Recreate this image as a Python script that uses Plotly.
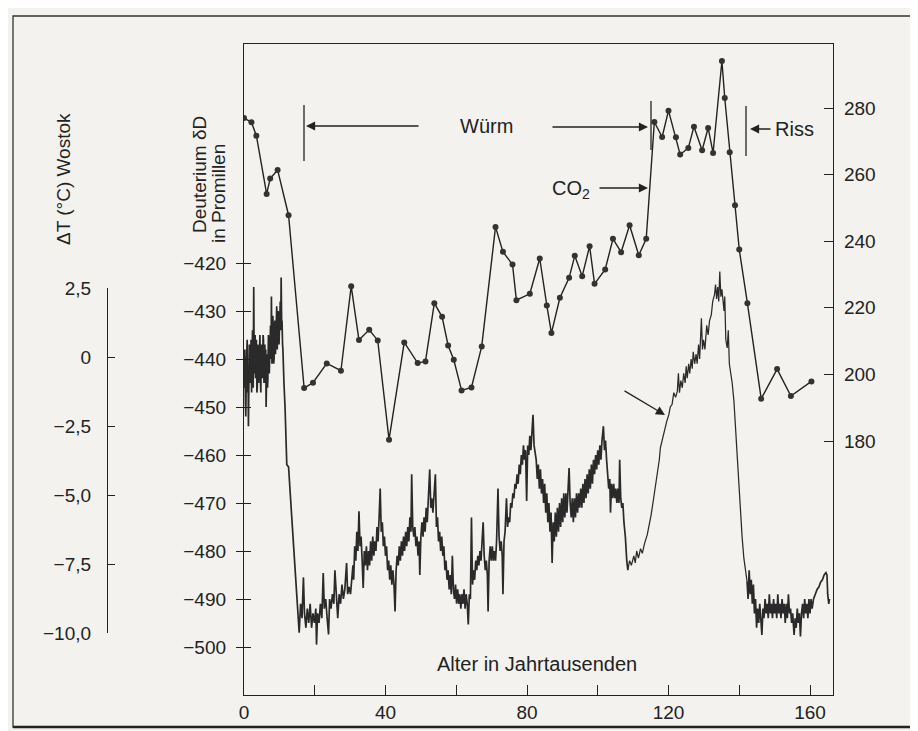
import plotly.graph_objects as go

# ---------------- data ----------------
# CO2 (ppm) record, right axis
co2_age = [0.0, 2.1, 3.5, 6.4, 7.4, 9.5, 12.6, 17.0, 19.5, 23.4, 27.4, 30.3, 32.5, 35.4, 37.8,
           41.0, 45.3, 49.1, 51.3, 53.8, 56.0, 57.7, 59.3, 61.5, 64.3, 67.2, 71.1, 73.2, 75.9,
           77.0, 80.8, 83.6, 85.6, 86.9, 89.3, 91.9, 93.5, 95.6, 97.7, 99.1, 102.1, 104.3, 106.6,
           109.0, 111.6, 113.7, 116.0, 118.2, 120.0, 122.1, 123.3, 125.6, 127.2, 129.5, 131.2,
           132.6, 135.1, 135.9, 137.3, 138.8, 140.0, 142.3, 146.2, 150.7, 154.6, 160.4]
co2_ppm = [277.0, 275.7, 271.7, 254.2, 258.8, 261.4, 247.8, 195.9, 197.5, 203.3, 201.1, 226.5, 210.3,
           213.4, 210.2, 180.4, 209.6, 203.4, 203.9, 221.4, 217.3, 208.7, 204.4, 195.2, 196.1, 208.4,
           244.3, 236.8, 233.0, 222.3, 224.2, 234.8, 220.7, 212.4, 223.0, 229.0, 235.6, 229.5, 238.5,
           227.2, 231.5, 240.7, 236.7, 244.8, 235.8, 240.7, 275.8, 271.3, 279.2, 271.2, 266.0, 268.0,
           274.4, 267.3, 274.0, 266.5, 294.1, 283.0, 266.7, 250.8, 237.5, 221.4, 192.7, 201.6, 193.5,
           197.9]

# Deuterium (per mil) record, left axis: (age kyr, dD)
dd_holocene = [(0.0, -446), (0.15, -440), (0.25, -438), (0.4, -449), (0.5, -452), (0.65, -443),
               (0.75, -441), (0.9, -436), (1.0, -447), (1.15, -442), (1.25, -454), (1.4, -444),
               (1.5, -437), (1.65, -441), (1.75, -445), (1.9, -439), (2.0, -436), (2.15, -447),
               (2.25, -443), (2.4, -434), (2.5, -438), (2.6, -446), (2.75, -425), (2.9, -443),
               (3.0, -440), (3.15, -435), (3.25, -444), (3.4, -439), (3.5, -436), (3.65, -447),
               (3.75, -446), (3.9, -437), (4.0, -438), (4.15, -445), (4.25, -442), (4.4, -436),
               (4.5, -435), (4.65, -444), (4.75, -447), (4.9, -439), (5.0, -437), (5.15, -444),
               (5.25, -443), (5.4, -435), (5.5, -436), (5.65, -445), (5.75, -441), (5.9, -437),
               (6.0, -445), (6.15, -438), (6.25, -450), (6.4, -441), (6.5, -439), (6.65, -446),
               (6.75, -444), (6.9, -435), (7.0, -436), (7.15, -443), (7.25, -441), (7.4, -434),
               (7.5, -433), (7.65, -440), (7.75, -427), (7.9, -441), (8.0, -438), (8.15, -431),
               (8.25, -433), (8.4, -441), (8.5, -440), (8.65, -433), (8.75, -432), (8.9, -439),
               (9.0, -437), (9.15, -431), (9.25, -429), (9.4, -438), (9.5, -436), (9.65, -430),
               (9.75, -431), (9.9, -437), (10.0, -435), (10.15, -430), (10.25, -428), (10.4, -434),
               (10.5, -423), (10.65, -433), (10.75, -432), (10.9, -437), (11.0, -438), (11.3, -445)]
dd_lgm = [(11.6, -450), (12.1, -462), (12.6, -462.5), (13.5, -473), (14.4, -483.5), (15.2, -490.4),
          (15.6, -497), (16.0, -491), (16.4, -494), (16.8, -485.5), (17.1, -493), (17.5, -496),
          (17.9, -492), (18.3, -495), (18.7, -491), (19.1, -496), (19.5, -493), (19.9, -495),
          (20.3, -492), (20.5, -499.5), (20.8, -493), (21.2, -495), (21.6, -491), (22.0, -494),
          (22.4, -484.6), (22.7, -492), (23.1, -490), (23.5, -494), (23.9, -497.4), (24.2, -490),
          (24.6, -492), (25.0, -489), (25.4, -491), (25.7, -484), (26.1, -490), (26.5, -494),
          (26.9, -489), (27.3, -491), (27.7, -487), (28.1, -490), (28.5, -488), (29.0, -482.5),
          (29.3, -489), (29.7, -487.5), (30.1, -489), (30.5, -486), (30.8, -483)]
dd_mid = [(31.0, -486), (31.3, -479), (31.6, -482), (31.9, -476), (32.2, -480), (32.5, -471.7),
          (32.8, -479), (33.1, -477), (33.4, -482), (33.7, -487.7), (34.0, -480), (34.3, -483),
          (34.6, -479), (34.9, -484), (35.2, -480), (35.5, -483), (35.8, -478), (36.1, -482),
          (36.4, -477), (36.7, -481), (37.0, -478), (37.3, -480), (37.6, -475), (37.9, -478),
          (38.2, -473), (38.5, -467), (38.8, -476), (39.1, -474), (39.4, -479), (39.7, -477),
          (40.0, -481), (40.3, -479), (40.6, -484), (40.9, -482), (41.2, -486), (41.5, -483),
          (41.8, -487), (42.1, -484), (42.4, -487), (42.7, -492.6), (43.0, -484), (43.3, -481),
          (43.6, -483), (43.9, -479), (44.2, -482), (44.5, -478), (44.8, -481), (45.1, -477),
          (45.4, -480), (45.7, -476), (46.0, -479), (46.3, -475), (46.6, -478), (46.9, -473),
          (47.2, -476), (47.4, -464), (47.7, -475), (48.0, -477), (48.3, -475), (48.6, -479),
          (48.9, -477), (49.2, -481), (49.5, -478), (49.7, -485), (50.0, -477), (50.3, -474),
          (50.6, -477), (50.9, -473), (51.2, -476), (51.5, -471), (51.8, -474), (52.1, -470),
          (52.5, -463), (52.8, -471), (53.1, -469), (53.4, -472), (53.7, -469), (54.1, -464),
          (54.4, -475), (54.7, -473), (55.0, -478), (55.3, -476), (55.6, -480), (55.9, -477),
          (56.2, -481), (56.5, -479), (56.8, -484), (57.1, -482), (57.4, -486), (57.7, -484),
          (58.0, -488), (58.3, -485), (58.6, -489), (58.9, -481), (59.2, -488), (59.5, -490),
          (59.8, -487), (60.1, -491), (60.4, -488), (60.7, -491), (61.0, -489), (61.3, -492),
          (61.6, -489), (61.9, -491), (62.2, -488), (62.5, -492), (62.8, -489), (63.1, -491),
          (63.4, -495.3), (63.7, -489), (64.0, -490), (64.3, -473), (64.6, -487), (64.9, -484),
          (65.2, -486), (65.5, -482), (65.8, -484), (66.1, -481), (66.4, -483), (66.7, -480),
          (67.0, -482), (67.3, -479), (67.6, -474), (67.9, -481), (68.2, -484), (68.5, -482),
          (68.8, -485), (69.0, -492.6), (69.3, -482), (69.6, -479), (69.9, -482), (70.2, -479),
          (70.5, -482), (70.8, -480), (71.1, -482), (71.4, -478), (71.8, -467), (72.1, -477),
          (72.4, -480), (72.7, -478), (73.0, -481), (73.2, -489), (73.5, -478), (73.8, -476),
          (74.2, -469), (74.5, -475), (74.8, -473), (75.1, -474), (75.4, -470), (75.7, -471),
          (76.0, -468), (76.3, -469), (76.6, -466), (76.9, -467), (77.2, -464), (77.5, -466),
          (77.8, -462), (78.1, -464), (78.4, -460), (78.7, -462), (79.0, -458), (79.3, -461),
          (79.6, -459), (79.9, -469.6), (80.2, -458), (80.5, -460), (80.8, -456), (81.1, -459),
          (81.4, -455), (81.7, -451.6), (82.0, -458), (82.3, -460)]
dd_eem_pre = [(82.6, -461), (82.9, -465), (83.2, -462), (83.5, -467), (83.8, -463), (84.1, -468),
              (84.4, -465), (84.7, -470), (85.0, -466), (85.3, -472), (85.6, -468), (85.9, -474),
              (86.2, -470), (86.5, -476), (86.8, -472), (87.1, -482.5), (87.4, -474), (87.7, -478),
              (88.0, -472), (88.3, -477), (88.6, -471), (88.9, -476), (89.2, -470), (89.5, -475),
              (89.8, -469), (90.1, -474), (90.4, -468), (90.7, -473), (91.0, -468), (91.3, -472),
              (91.6, -466), (91.9, -462.7), (92.2, -470), (92.5, -473), (92.8, -469), (93.1, -474),
              (93.4, -469), (93.7, -473), (94.0, -468), (94.3, -472), (94.6, -468), (94.9, -471),
              (95.2, -467), (95.5, -471), (95.8, -466), (96.1, -470), (96.4, -465), (96.7, -469),
              (97.0, -464), (97.3, -468), (97.6, -463), (97.9, -467), (98.2, -462), (98.5, -466),
              (98.8, -461), (99.1, -464), (99.4, -460), (99.7, -463), (100.0, -459), (100.3, -462),
              (100.6, -458), (100.9, -461), (101.2, -457), (101.6, -454), (101.9, -459), (102.2, -457),
              (102.5, -461), (102.8, -464), (103.1, -467), (103.4, -465), (103.6, -472), (103.9, -466),
              (104.2, -469), (104.5, -466), (104.8, -469), (105.1, -467), (105.4, -470), (105.7, -467),
              (106.0, -470), (106.2, -461), (106.5, -469), (106.8, -471), (107.1, -470), (107.4, -474),
              (107.8, -477), (108.2, -482), (108.5, -484)]
dd_eem = [(109.0, -482), (109.5, -483), (110.2, -481), (110.6, -482.5), (111.0, -480), (111.5, -481.5),
          (112.1, -479.5), (112.6, -480.5), (113.2, -478.5), (114.0, -476.6), (114.5, -475),
          (115.1, -472.4), (115.6, -470), (116.1, -467.6), (116.6, -465.5), (117.0, -463.4),
          (117.4, -461), (117.7, -458.5), (118.3, -456.5), (118.9, -455.1), (119.5, -453),
          (120.1, -451.6), (120.5, -450), (121.0, -449.5), (121.5, -447), (122.0, -448),
          (122.5, -446.7), (122.8, -443), (123.1, -447), (123.5, -444.5), (123.9, -446),
          (124.3, -443), (124.7, -445), (125.0, -441.5), (125.3, -444), (125.7, -441), (126.0, -443),
          (126.4, -440), (126.7, -442), (127.0, -438.5), (127.4, -441), (127.8, -439), (128.1, -441),
          (128.5, -437), (128.8, -440), (129.3, -431.5), (129.6, -438), (129.9, -436), (130.3, -438),
          (130.8, -433), (131.2, -435), (131.6, -432), (132.1, -430.8), (132.5, -428), (133.0, -426.6),
          (133.3, -424.5), (133.6, -427.5), (133.9, -425), (134.2, -428), (134.5, -421.8),
          (134.8, -427), (135.1, -425.5), (135.4, -428), (135.7, -430), (135.9, -427), (136.2, -436),
          (136.6, -437.7), (136.9, -434), (137.2, -441), (137.5, -442.6), (138.0, -445),
          (138.5, -448.8), (139.0, -455), (139.4, -460.6), (139.9, -466), (140.4, -471.7),
          (140.8, -477), (141.3, -481.5), (141.8, -484.5), (142.2, -486.3)]
dd_riss = [(142.5, -490), (142.8, -484), (143.1, -489), (143.4, -486), (143.7, -491), (144.0, -487),
           (144.3, -493), (144.6, -490), (144.9, -496), (145.2, -492), (145.5, -495), (145.8, -491),
           (146.1, -494), (146.4, -497.5), (146.7, -492), (147.0, -494), (147.3, -490), (147.6, -493),
           (147.9, -491), (148.2, -494), (148.5, -489), (148.8, -493), (149.1, -491), (149.4, -494),
           (149.7, -490), (150.0, -493), (150.3, -491), (150.6, -494), (150.9, -489), (151.2, -493),
           (151.5, -491), (151.8, -494), (152.1, -490), (152.4, -493), (152.7, -491), (153.0, -495),
           (153.3, -491), (153.6, -494), (153.9, -489), (154.2, -493), (154.5, -492), (154.8, -495),
           (155.1, -493), (155.5, -497.5), (155.8, -494), (156.1, -496), (156.4, -492), (156.7, -495),
           (157.0, -493), (157.3, -497.8), (157.6, -493), (157.9, -491), (158.2, -494), (158.5, -490),
           (158.8, -493), (159.1, -491), (159.4, -494), (159.7, -490), (160.0, -493), (160.3, -490),
           (160.6, -492), (161.0, -490), (161.5, -489), (162.0, -488), (162.5, -487.5), (163.0, -486.5),
           (163.5, -486), (164.0, -485), (164.5, -484.5), (164.8, -485), (165.0, -489), (165.3, -491),
           (165.5, -490)]

dd_ticks = [-420, -430, -440, -450, -460, -470, -480, -490, -500]
co2_ticks = [180, 200, 220, 240, 260, 280]
dt_ticks = [2.5, 0, -2.5, -5.0, -7.5, -10.0]
dt_labels = ["2,5", "0", "\u22122,5", "\u22125,0", "\u22127,5", "\u221210,0"]
age_ticks = [0, 20, 40, 60, 80, 100, 120, 140, 160]
age_labels = ["0", "", "40", "", "80", "", "120", "", "160"]

# ---------------- figure ----------------
W, H = 918, 731
INK = "#222222"
BG = "#f3f2ee"
FONT = "Liberation Sans, Arial, Helvetica, sans-serif"


def px(x):
    return x / W


def py(y):
    return 1 - y / H


fig = go.Figure()
# noisy glacial parts drawn a bit heavier than the smooth interglacial section
dd_parts = [
    (dd_holocene + dd_lgm + dd_mid + dd_eem_pre, 1.7),
    ([dd_eem_pre[-1]] + dd_eem, 1.25),
    ([dd_eem[-1]] + dd_riss, 1.7),
]
for pts, w in dd_parts:
    fig.add_trace(go.Scatter(x=[p[0] for p in pts], y=[p[1] for p in pts], mode="lines",
                             xaxis="x", yaxis="y", line=dict(color="#2a2a2a", width=w),
                             showlegend=False, hoverinfo="skip"))
fig.add_trace(go.Scatter(x=co2_age, y=co2_ppm, mode="lines+markers", xaxis="x", yaxis="y2",
                         line=dict(color=INK, width=1.4),
                         marker=dict(size=6, color="#333333"), showlegend=False))
# dummy traces so helper axes are drawn
fig.add_trace(go.Scatter(x=[None], y=[None], xaxis="x2", yaxis="y3", showlegend=False))
fig.add_trace(go.Scatter(x=[None], y=[None], xaxis="x", yaxis="y4", showlegend=False))

x0p, x1p = 236, 825
ytop, ybot = 36, 687
xr = [0, (x1p - x0p) / ((802 - 236) / 160)]
# deuterium: -420 at 255 px, -500 at 639 px
d_per_px = 80 / (639 - 255)
yr = [-500 - (ybot - 639) * d_per_px, -420 + (255 - ytop) * d_per_px]
# co2: 280 at 100 px, 180 at 433 px
c_per_px = 100 / (433 - 100)
cr = [180 - (ybot - 433) * c_per_px, 280 + (100 - ytop) * c_per_px]

tickfont = dict(family=FONT, size=19, color=INK)
common = dict(showgrid=False, zeroline=False, linecolor=INK, tickcolor=INK, tickwidth=1.2,
              automargin=False)

fig.update_layout(
    width=W, height=H, margin=dict(l=0, r=0, t=0, b=0, pad=0, autoexpand=False),
    paper_bgcolor=BG, plot_bgcolor=BG,
    font=dict(family=FONT, size=19, color=INK),
    showlegend=False,
    xaxis=dict(domain=[px(x0p), px(x1p)], range=xr, anchor="y", tickmode="array",
               tickvals=age_ticks, ticktext=age_labels, ticks="inside", ticklen=10,
               showline=True, linewidth=1.3, mirror=True, tickfont=tickfont, **common),
    xaxis2=dict(domain=[0.0, 0.08], visible=False, anchor="y3", range=[0, 1], automargin=False),
    yaxis=dict(domain=[py(ybot), py(ytop)], range=yr, anchor="x", side="left",
               tickmode="array", tickvals=dd_ticks, ticks="outside", ticklen=7,
               ticklabelstandoff=6, showline=True, linewidth=1.3, tickfont=tickfont, **common),
    yaxis4=dict(overlaying="y", range=yr, anchor="x", side="left", tickmode="array",
                tickvals=dd_ticks, ticks="inside", ticklen=7, showticklabels=False,
                showline=False, **common),
    yaxis2=dict(overlaying="y", range=cr, anchor="x", side="right", tickmode="array",
                tickvals=co2_ticks, ticks="inside", ticklen=9, ticklabelstandoff=6,
                showline=True, linewidth=1.3, tickfont=tickfont, **common),
    yaxis3=dict(domain=[py(625), py(280)], range=[-10, 2.5], anchor="free", position=px(99),
                side="left", tickmode="array", tickvals=dt_ticks, ticktext=dt_labels,
                ticks="inside", ticklen=7, ticklabelstandoff=12, showline=True, linewidth=1.3,
                tickfont=tickfont, **common),
)

ann = []


def text(x, y, s, size=20, angle=0, xanchor="center"):
    ann.append(dict(x=px(x), y=py(y), xref="paper", yref="paper", text=s, showarrow=False,
                    font=dict(family=FONT, size=size, color=INK), textangle=angle,
                    xanchor=xanchor, yanchor="middle"))


def arrow(hx, hy, tx, ty):
    ann.append(dict(x=px(hx), y=py(hy), xref="paper", yref="paper", text="", showarrow=True,
                    ax=tx - hx, ay=ty - hy, axref="pixel", ayref="pixel",
                    arrowhead=2, arrowsize=1.4, arrowwidth=1.3, arrowcolor=INK))


text(55, 171, "\u0394T (\u00b0C) Wostok", size=19, angle=-90)
text(191, 167, "Deuterium \u03b4D", size=19, angle=-90)
text(211, 186, "in Promillen", size=19, angle=-90)
text(529, 656, "Alter in Jahrtausenden")
text(478, 118, "W\u00fcrm")
text(786, 121, "Riss")
text(563, 181, "CO<sub>2</sub>")
arrow(298, 118, 412, 118)
arrow(640, 119, 543, 119)
arrow(742, 121, 764, 121)
arrow(640, 180, 590, 180)
arrow(657, 407, 615, 382)
fig.update_layout(annotations=ann)

shapes = []


def seg(x0, y0, x1, y1, w=1.3):
    shapes.append(dict(type="line", xref="paper", yref="paper", x0=px(x0), y0=py(y0),
                       x1=px(x1), y1=py(y1), line=dict(color=INK, width=w)))


seg(296, 97, 296, 153)
seg(643, 93, 643, 142)
seg(738, 98, 738, 148)
shapes.append(dict(type="rect", xref="paper", yref="paper", x0=px(5), y0=py(719), x1=px(912),
                   y1=py(8), line=dict(color="#333333", width=1.3)))
seg(5, 719, 912, 719, w=2.5)
fig.update_layout(shapes=shapes)

fig.write_html("out.html")
